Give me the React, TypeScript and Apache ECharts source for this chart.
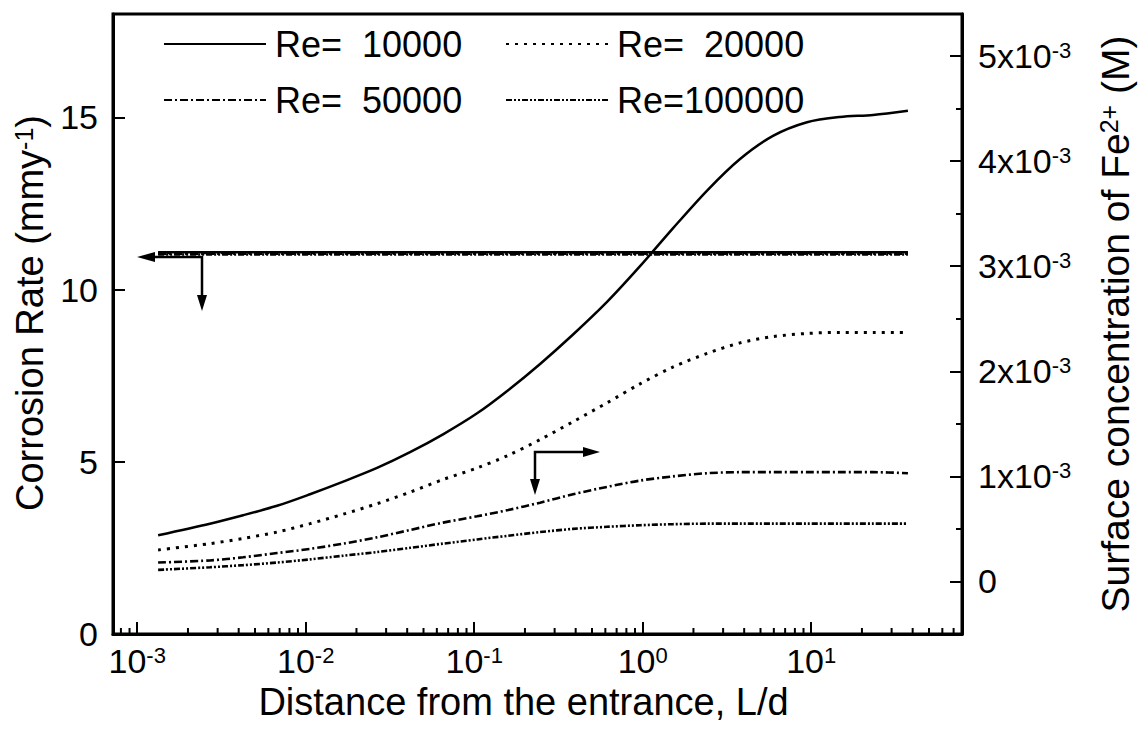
import React, { useEffect, useRef } from "react";
import * as echarts from "echarts";

const FONT = "'Liberation Sans', Arial, Helvetica, sans-serif";

// Distance from the entrance (L/d) at which the curves are sampled
const LD = [
  0.00133, 0.0027, 0.00425, 0.00676, 0.0106, 0.0167, 0.0265, 0.0416, 0.0653,
  0.104, 0.159, 0.246, 0.386, 0.614, 0.964, 1.51, 2.41, 3.78, 5.93, 9.44, 14.8,
  23.3, 37.5,
];

// Surface concentration of Fe2+ (M), right axis
const FE_RE10000 = [
  0.44e-3, 0.55e-3, 0.63e-3, 0.72e-3, 0.83e-3, 0.95e-3, 1.08e-3, 1.23e-3,
  1.4e-3, 1.6e-3, 1.82e-3, 2.07e-3, 2.35e-3, 2.66e-3, 3.0e-3, 3.36e-3,
  3.72e-3, 4.02e-3, 4.24e-3, 4.37e-3, 4.42e-3, 4.44e-3, 4.48e-3,
];
const FE_RE20000 = [
  0.3e-3, 0.36e-3, 0.41e-3, 0.47e-3, 0.55e-3, 0.64e-3, 0.74e-3, 0.85e-3,
  0.97e-3, 1.08e-3, 1.2e-3, 1.35e-3, 1.52e-3, 1.7e-3, 1.88e-3, 2.04e-3,
  2.17e-3, 2.27e-3, 2.33e-3, 2.36e-3, 2.37e-3, 2.37e-3, 2.37e-3,
];
const FE_RE50000 = [
  0.18e-3, 0.2e-3, 0.23e-3, 0.27e-3, 0.31e-3, 0.36e-3, 0.42e-3, 0.49e-3,
  0.56e-3, 0.62e-3, 0.68e-3, 0.75e-3, 0.83e-3, 0.9e-3, 0.96e-3, 1.0e-3,
  1.03e-3, 1.04e-3, 1.04e-3, 1.04e-3, 1.04e-3, 1.04e-3, 1.03e-3,
];
const FE_RE100000 = [
  0.11e-3, 0.135e-3, 0.155e-3, 0.18e-3, 0.21e-3, 0.245e-3, 0.28e-3, 0.32e-3,
  0.36e-3, 0.4e-3, 0.435e-3, 0.47e-3, 0.5e-3, 0.52e-3, 0.535e-3, 0.545e-3,
  0.55e-3, 0.55e-3, 0.55e-3, 0.55e-3, 0.55e-3, 0.55e-3, 0.55e-3,
];

// Corrosion rate (mm/y), left axis: flat along the whole pipe
const CR_LD = [0.00133, 37.5];
const CR_RE10000 = [11.08, 11.08];
const CR_RE20000 = [11.06, 11.06];
const CR_RE50000 = [11.04, 11.04];
const CR_RE100000 = [11.02, 11.02];

const RE_NAMES = [
  "Re=\u00a0\u00a010000",
  "Re=\u00a0\u00a020000",
  "Re=\u00a0\u00a050000",
  "Re=100000",
];

const X_MIN = 7.18e-4;
const X_MAX = 78.5;
const MANTISSAS = [2, 3, 4, 5, 6, 7, 8, 9];
const DECADES = [-4, -3, -2, -1, 0, 1];

const DASHES: any[] = ["solid", [3, 6], [8, 3, 2, 3], [6, 2, 2, 2, 2, 2]];
const WIDTHS = [2.5, 3, 2.6, 2.6];

export default function App() {
  const ref = useRef<HTMLDivElement>(null);

  useEffect(() => {
    if (!ref.current) return;
    const chart = echarts.init(ref.current, null, { renderer: "svg" });

    const minorTicks: number[][] = [];
    DECADES.forEach((d) =>
      MANTISSAS.forEach((m) => {
        const v = m * Math.pow(10, d);
        if (v > X_MIN && v < X_MAX) minorTicks.push([v, 0]);
      })
    );

    const feSets = [FE_RE10000, FE_RE20000, FE_RE50000, FE_RE100000];
    const crSets = [CR_RE10000, CR_RE20000, CR_RE50000, CR_RE100000];

    const lineSeries: any[] = [];
    feSets.forEach((set, i) => {
      lineSeries.push({
        name: RE_NAMES[i],
        type: "line",
        xAxisIndex: 0,
        yAxisIndex: 1,
        symbol: "none",
        smooth: 0.3,
        data: LD.map((x, k) => [x, set[k]]),
        lineStyle: { color: "#000", width: WIDTHS[i], type: DASHES[i] },
        itemStyle: { color: "#000" },
        silent: true,
      });
    });
    crSets.forEach((set, i) => {
      lineSeries.push({
        name: "Corrosion rate " + RE_NAMES[i],
        type: "line",
        xAxisIndex: 0,
        yAxisIndex: 0,
        symbol: "none",
        data: CR_LD.map((x, k) => [x, set[k]]),
        lineStyle: { color: "#000", width: 2.5, type: DASHES[i] },
        itemStyle: { color: "#000" },
        silent: true,
      });
    });

    const textBase = { color: "#000", fontFamily: FONT };
    const supRich = {
      sup: { ...textBase, fontSize: 22, lineHeight: 16, verticalAlign: "top" },
    };
    const nameRich = {
      sup: { ...textBase, fontSize: 25, lineHeight: 18, verticalAlign: "top" },
    };

    const legendPos = [
      { left: 163, top: 23 },
      { left: 505, top: 23 },
      { left: 163, top: 79 },
      { left: 505, top: 79 },
    ];

    chart.setOption({
      animation: false,
      backgroundColor: "#fff",
      grid: {
        left: 113,
        right: 181,
        top: 14,
        bottom: 100,
        show: true,
        borderColor: "#000",
        borderWidth: 3,
      },
      legend: legendPos.map((p, i) => ({
        data: [RE_NAMES[i]],
        left: p.left,
        top: p.top,
        padding: 0,
        itemWidth: 102,
        itemHeight: 20,
        selectedMode: false,
        itemStyle: { opacity: 0 },
        textStyle: { ...textBase, fontSize: 36, lineHeight: 42, padding: [0, 0, 0, 4] },
      })),
      xAxis: {
        type: "log",
        logBase: 10,
        min: X_MIN,
        max: X_MAX,
        axisLine: { show: true, lineStyle: { color: "#000", width: 3 } },
        axisTick: { show: true, inside: true, length: 12, lineStyle: { color: "#000", width: 2 } },
        splitLine: { show: false },
        axisLabel: {
          ...textBase,
          fontSize: 34,
          margin: 10,
          showMinLabel: false,
          showMaxLabel: false,
          formatter: (v: number) => `10{sup|${Math.round(Math.log10(v))}}`,
          rich: supRich,
        },
        name: "Distance from the entrance, L/d",
        nameLocation: "middle",
        nameGap: 49,
        nameTextStyle: { ...textBase, fontSize: 38, padding: [0, 28, 0, 0] },
      },
      yAxis: [
        {
          type: "value",
          position: "left",
          min: 0,
          max: 18,
          interval: 5,
          axisLine: { show: true, lineStyle: { color: "#000", width: 3 } },
          axisTick: { show: true, inside: true, length: 12, lineStyle: { color: "#000", width: 2 } },
          splitLine: { show: false },
          axisLabel: { ...textBase, fontSize: 34, margin: 15, showMaxLabel: false },
          name: "Corrosion Rate (mmy{sup|-1})",
          nameLocation: "middle",
          nameRotate: 90,
          nameGap: 62,
          nameTextStyle: { ...textBase, fontSize: 38, padding: [0, 0, 0, 22], rich: nameRich },
        },
        {
          type: "value",
          position: "right",
          min: -0.0005,
          max: 0.0054,
          splitNumber: 5,
          axisLine: { show: true, lineStyle: { color: "#000", width: 3 } },
          axisTick: { show: true, inside: true, length: 12, lineStyle: { color: "#000", width: 2 } },
          splitLine: { show: false },
          axisLabel: {
            ...textBase,
            fontSize: 34,
            margin: 16,
            showMinLabel: false,
            showMaxLabel: false,
            formatter: (v: number) => {
              const n = Math.round(v * 1000);
              return n === 0 ? "0" : `${n}x10{sup|-3}`;
            },
            rich: supRich,
          },
          name: "Surface concentration of Fe{sup|2+} (M)",
          nameLocation: "middle",
          nameRotate: 90,
          nameGap: 134,
          nameTextStyle: { ...textBase, fontSize: 39, rich: nameRich },
        },
        {
          // half-step ticks on the concentration axis
          type: "value",
          position: "right",
          min: -0.0005,
          max: 0.0054,
          interval: 0.0005,
          axisLine: { show: false },
          axisTick: { show: true, inside: true, length: 6, lineStyle: { color: "#000", width: 2 } },
          splitLine: { show: false },
          axisLabel: { show: false },
        },
      ],
      graphic: [
        {
          type: "polyline",
          shape: { points: [[150, 257], [202, 257], [202, 298]] },
          style: { stroke: "#000", lineWidth: 2.5, fill: null },
        },
        { type: "polygon", shape: { points: [[137, 257], [155, 252], [155, 262]] }, style: { fill: "#000" } },
        { type: "polygon", shape: { points: [[202, 311], [197, 295], [207, 295]] }, style: { fill: "#000" } },
        {
          type: "polyline",
          shape: { points: [[535, 482], [535, 452], [586, 452]] },
          style: { stroke: "#000", lineWidth: 2.5, fill: null },
        },
        { type: "polygon", shape: { points: [[600, 452], [583, 447], [583, 457]] }, style: { fill: "#000" } },
        { type: "polygon", shape: { points: [[535, 495], [530, 479], [540, 479]] }, style: { fill: "#000" } },
      ],
      series: [
        ...lineSeries,
        {
          name: "minor ticks",
          type: "custom",
          xAxisIndex: 0,
          yAxisIndex: 0,
          silent: true,
          data: minorTicks,
          renderItem: (_params: any, api: any) => {
            const p = api.coord([api.value(0), 0]);
            return {
              type: "line",
              shape: { x1: p[0], y1: p[1], x2: p[0], y2: p[1] - 6 },
              style: { stroke: "#000", lineWidth: 2 },
            };
          },
        },
      ],
    });

    return () => chart.dispose();
  }, []);

  return (
    <div
      ref={ref}
      style={{ position: "absolute", left: 0, top: 0, width: 1143, height: 734, background: "#fff" }}
    />
  );
}
